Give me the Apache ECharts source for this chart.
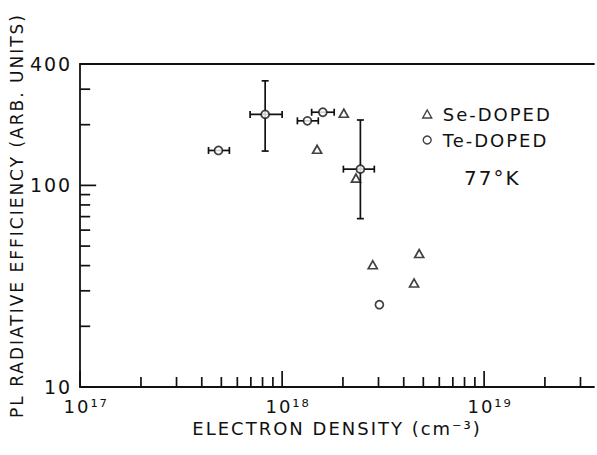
<!DOCTYPE html>
<html>
<head>
<meta charset="utf-8">
<script src="https://cdn.jsdelivr.net/npm/echarts@6/dist/echarts.min.js"></script>
<style>
  html, body { margin: 0; padding: 0; background: #fff; }
  #main { width: 597px; height: 455px; }
  #main text { letter-spacing: 2px; }
</style>
</head>
<body>
<div id="main"></div>
<script>
// ---- data ----
const seX = [2.02e18, 1.49e18, 2.32e18, 2.81e18, 4.77e18, 4.50e18];
const seY = [228, 151, 108.7, 40.4, 45.9, 32.8];

const teX = [4.84e17, 8.24e17, 1.334e18, 1.59e18, 2.44e18, 3.03e18];
const teY = [149, 225, 209, 230.6, 120.4, 25.6];
const teXLow  = [4.32e17, 6.94e17, 1.19e18, 1.40e18, 2.01e18, null];
const teXHigh = [5.48e17, 1.00e18, 1.51e18, 1.81e18, 2.86e18, null];
const teYLow  = [null, 148, null, null, 68.4, null];
const teYHigh = [null, 330, null, null, 211, null];

const xMajorTicks = [1e17, 1e18, 1e19];
const xMinorTicks = [2e17, 3e17, 4e17, 5e17, 6e17, 7e17, 8e17, 9e17,
                     2e18, 3e18, 4e18, 5e18, 6e18, 7e18, 8e18, 9e18,
                     2e19, 3e19];
const yMajorTicks = [10, 100];
const yMinorTicks = [20, 30, 40, 50, 60, 70, 80, 90, 200, 300];

const xMin = 1e17, xMax = 3.5e19;
const yMin = 10, yMax = 400;

const supDigits = {'0':'⁰','1':'¹','2':'²','3':'³','4':'⁴','5':'⁵','6':'⁶','7':'⁷','8':'⁸','9':'⁹'};
function sup(n) { return String(n).split('').map(c => supDigits[c]).join(''); }

const INK = '#111';
const FONT = 'DejaVu Sans';

const seData = seX.map((x, i) => [x, seY[i]]);
const teData = teX.map((x, i) => [x, teY[i]]);
const errData = teX.map((x, i) => [
  x, teY[i],
  teXLow[i] == null ? x : teXLow[i],
  teXHigh[i] == null ? x : teXHigh[i],
  teYLow[i] == null ? teY[i] : teYLow[i],
  teYHigh[i] == null ? teY[i] : teYHigh[i]
]);
const xTickData = xMajorTicks.map(v => [v, yMin, 1]).concat(xMinorTicks.map(v => [v, yMin, 0]));
const yTickData = yMajorTicks.map(v => [xMin, v, 1]).concat(yMinorTicks.map(v => [xMin, v, 0]));

const chart = echarts.init(document.getElementById('main'), null, {renderer: 'svg'});

const lineStyle = {stroke: INK, lineWidth: 1.7};
const CAP = 3.5;

chart.setOption({
  backgroundColor: '#fff',
  animation: false,
  grid: {left: 80, top: 64, right: 2, bottom: 68, containLabel: false},
  title: {
    text: '77°K',
    left: 459, top: 163,
    textStyle: {fontFamily: FONT, fontSize: 20, fontWeight: 'normal', color: INK}
  },
  legend: {
    orient: 'vertical',
    left: 417, top: 100,
    itemWidth: 9, itemHeight: 8,
    itemGap: 8,
    textStyle: {fontFamily: FONT, fontSize: 18, color: INK, padding: [0, 0, 0, 6]},
    data: [
      {name: 'Se-DOPED', icon: 'triangle', itemStyle: {color: '#fff', borderColor: INK, borderWidth: 1.4}},
      {name: 'Te-DOPED', icon: 'circle', itemStyle: {color: '#fff', borderColor: INK, borderWidth: 1.4}}
    ]
  },
  xAxis: [{
    type: 'log', logBase: 10, min: xMin, max: xMax,
    name: 'ELECTRON DENSITY (cm⁻³)',
    nameLocation: 'middle', nameGap: 32,
    nameTextStyle: {fontFamily: FONT, fontSize: 18, color: INK},
    axisLine: {show: true, lineStyle: {color: INK, width: 1.8}},
    axisTick: {show: false},
    splitLine: {show: false},
    minorTick: {show: false},
    axisLabel: {
      fontFamily: FONT, fontSize: 18, color: INK, margin: 10,
      padding: [0, 0, 0, 12],
      showMinLabel: true, showMaxLabel: true,
      formatter: function (v) {
        const e = Math.log10(v);
        if (Math.abs(e - Math.round(e)) > 1e-6) return '';
        return '10' + sup(Math.round(e));
      }
    }
  }, {
    type: 'log', logBase: 10, min: xMin, max: xMax, position: 'top',
    axisLine: {show: true, lineStyle: {color: INK, width: 1.8}},
    axisTick: {show: false}, axisLabel: {show: false}, splitLine: {show: false}
  }],
  yAxis: {
    type: 'log', logBase: 10, min: yMin, max: yMax,
    name: 'PL RADIATIVE EFFICIENCY (ARB. UNITS)',
    nameLocation: 'middle', nameGap: 47, nameRotate: 90,
    nameTextStyle: {fontFamily: FONT, fontSize: 17, color: INK, padding: [0, 0, 0, 20]},
    axisLine: {show: true, lineStyle: {color: INK, width: 1.8}},
    axisTick: {show: false},
    splitLine: {show: false},
    minorTick: {show: false},
    axisLabel: {
      fontFamily: FONT, fontSize: 19, color: INK, margin: 8,
      showMinLabel: true, showMaxLabel: true,
      formatter: function (v) { return String(Math.round(v)); }
    }
  },
  series: [
    {
      type: 'custom', name: 'xticks', xAxisIndex: 0, clip: false, silent: true, z: 1,
      encode: {x: 0, y: 1},
      data: xTickData,
      renderItem: function (params, api) {
        const p = api.coord([api.value(0), api.value(1)]);
        const len = api.value(2) ? 16 : 10;
        return {type: 'line', shape: {x1: p[0], y1: p[1], x2: p[0], y2: p[1] - len}, style: lineStyle};
      }
    },
    {
      type: 'custom', name: 'yticks', xAxisIndex: 0, clip: false, silent: true, z: 1,
      encode: {x: 0, y: 1},
      data: yTickData,
      renderItem: function (params, api) {
        const p = api.coord([api.value(0), api.value(1)]);
        const len = api.value(2) ? 16 : 10;
        return {type: 'line', shape: {x1: p[0], y1: p[1], x2: p[0] + len, y2: p[1]}, style: lineStyle};
      }
    },
    {
      type: 'custom', name: 'errors', xAxisIndex: 0, clip: false, silent: true, z: 2,
      encode: {x: 0, y: 1},
      data: errData,
      renderItem: function (params, api) {
        const x = api.value(0), y = api.value(1);
        const l = api.coord([api.value(2), y]);
        const r = api.coord([api.value(3), y]);
        const b = api.coord([x, api.value(4)]);
        const t = api.coord([x, api.value(5)]);
        const children = [];
        if (r[0] - l[0] > 1) {
          children.push({type: 'line', shape: {x1: l[0], y1: l[1], x2: r[0], y2: r[1]}, style: lineStyle});
          children.push({type: 'line', shape: {x1: l[0], y1: l[1] - CAP, x2: l[0], y2: l[1] + CAP}, style: lineStyle});
          children.push({type: 'line', shape: {x1: r[0], y1: r[1] - CAP, x2: r[0], y2: r[1] + CAP}, style: lineStyle});
        }
        if (b[1] - t[1] > 1) {
          children.push({type: 'line', shape: {x1: t[0], y1: t[1], x2: b[0], y2: b[1]}, style: lineStyle});
          children.push({type: 'line', shape: {x1: t[0] - CAP, y1: t[1], x2: t[0] + CAP, y2: t[1]}, style: lineStyle});
          children.push({type: 'line', shape: {x1: b[0] - CAP, y1: b[1], x2: b[0] + CAP, y2: b[1]}, style: lineStyle});
        }
        return {type: 'group', children: children};
      }
    },
    {
      type: 'scatter', name: 'Se-DOPED', xAxisIndex: 0, z: 3,
      symbol: 'triangle', symbolSize: [9, 8],
      itemStyle: {color: '#fff', borderColor: INK, borderWidth: 1.7},
      data: seData
    },
    {
      type: 'scatter', name: 'Te-DOPED', xAxisIndex: 0, z: 4,
      symbol: 'circle', symbolSize: 8,
      itemStyle: {color: '#fff', borderColor: INK, borderWidth: 1.7},
      data: teData
    }
  ]
});
</script>
</body>
</html>
